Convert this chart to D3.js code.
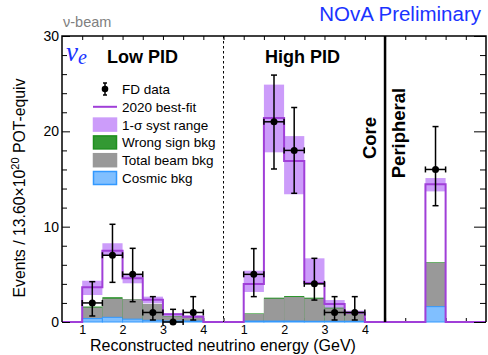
<!DOCTYPE html>
<html><head><meta charset="utf-8">
<script src="https://cdn.jsdelivr.net/npm/d3@7"></script>
<style>body{margin:0;background:#fff}svg{display:block;font-family:"Liberation Sans",Arial,sans-serif}</style>
</head><body><svg id="c" width="488" height="355"></svg>
<script>
// ---- data ----
const binLowEdges = [1, 1.5, 2, 2.5, 3, 3.5];   // GeV, width 0.5
const binWidth = 0.5;
const xTickValues = [1, 2, 3, 4];
const xTickLabels = ["1", "2", "3", "4"];
const yMajorTicks = [0, 10, 20, 30];

const lowPred    = [3.64, 7.48, 4.58, 2.34, 0.80, 0.56];
const lowBandLo  = [2.83, 6.93, 4.06, 1.96, 0.63, 0.45];
const lowBandHi  = [4.33, 8.26, 5.04, 2.66, 0.92, 0.70];
const lowWrong   = [1.62, 2.60, 2.38, 1.89, 0.63, 0.56];
const lowBeam    = [1.52, 2.45, 2.38, 1.89, 0.60, 0.56];
const lowCosmic  = [0.36, 0.49, 0.30, 0.18, 0.10, 0.10];
const lowData    = [2, 7, 5, 1, 0, 1];
const lowDataLo  = [0.63, 4.16, 2.13, 0.21, 0, 0.21];
const lowDataHi  = [4.23, 10.25, 7.73, 2.66, 1.33, 2.66];

const highPred   = [3.99, 21.4, 16.9, 4.10, 1.89, 0.98];
const highBandLo = [3.15, 17.8, 13.4, 4.00, 1.45, 0.84];
const highBandHi = [5.38, 24.9, 19.5, 6.68, 2.30, 1.19];
const highWrong  = [0.90, 2.55, 2.72, 2.55, 1.50, 0.98];
const highBeam   = [0.84, 2.45, 2.62, 2.45, 1.43, 0.98];
const highCosmic = [0.10, 0.10, 0.10, 0.08, 0.08, 0.08];
const highData   = [5, 21, 18, 4, 1, 1];
const highDataLo = [2.66, 16.05, 13.5, 2.3, 0.21, 0.21];
const highDataHi = [7.7, 25.9, 22.5, 6.68, 2.66, 2.66];

const periPred = [14.45], periBandLo = [13.7], periBandHi = [15.1];
const periWrong = [6.26], periBeam = [6.2], periCosmic = [1.61];
const periData = [16], periDataLo = [12.2], periDataHi = [20.5];

const legendLabels = ["FD data", "2020 best-fit", "1-\u03c3 syst range", "Wrong sign bkg", "Total beam bkg", "Cosmic bkg"];

// ---- colours ----
const C = {pred:"#a03fd8", band:"#cc9cfa", green:"#339933", greenS:"#1f8f1f", gray:"#999999",
           cos:"#80bfff", cosS:"#3399ff", blue:"#1a33ff"};

const svg = d3.select("#c");
const x = d3.scaleLinear().domain([0, 10.5]).range([62, 486]);
const y = d3.scaleLinear().domain([0, 30]).range([322, 36]);
// region offsets: E (GeV) -> u
const uLow = e => e - 0.5, uHigh = e => 4 + e - 0.5;

// bottom ticks (behind)
const halfTicks = d3.range(0.5, 10.5, 0.5);
svg.append("g").attr("transform", `translate(0,${y(0)})`)
  .call(d3.axisBottom(x).tickValues(halfTicks).tickSize(-4).tickFormat(""))
  .call(g => { g.select(".domain").remove(); g.selectAll("line").attr("stroke","#000"); });
// top ticks
svg.append("g").attr("transform", `translate(0,${y(30)})`)
  .call(d3.axisTop(x).tickValues(halfTicks).tickSize(-4).tickFormat(""))
  .call(g => { g.select(".domain").remove(); g.selectAll("line").attr("stroke","#000"); });

function drawRegion(map, edges, pred, bLo, bHi, wrong, beam, cos) {
  const g = svg.append("g");
  edges.forEach((e, i) => {
    const x0 = x(map(e)), x1 = x(map(e + binWidth));
    g.append("rect").attr("x", x0).attr("width", x1 - x0)
      .attr("y", y(bHi[i])).attr("height", y(bLo[i]) - y(bHi[i])).attr("fill", C.band);
  });
  edges.forEach((e, i) => {
    const x0 = x(map(e)), x1 = x(map(e + binWidth));
    g.append("rect").attr("x", x0).attr("width", x1 - x0)
      .attr("y", y(wrong[i])).attr("height", y(0) - y(wrong[i])).attr("fill", C.greenS);
    g.append("rect").attr("x", x0).attr("width", x1 - x0)
      .attr("y", y(beam[i])).attr("height", y(0) - y(beam[i])).attr("fill", C.gray);
    g.append("rect").attr("x", x0).attr("width", x1 - x0)
      .attr("y", y(cos[i])).attr("height", y(0) - y(cos[i])).attr("fill", C.cos)
      .attr("stroke", C.cosS).attr("stroke-width", 1);
  });
}
function drawLine(map, start, end, edges, pred) {
  const pts = [[start, 0]];
  edges.forEach((e, i) => pts.push([e, pred[i]]));
  pts.push([edges[edges.length - 1] + binWidth, 0]);
  pts.push([end, 0]);
  const line = d3.line().x(d => x(map(d[0]))).y(d => y(d[1])).curve(d3.curveStepAfter);
  svg.append("path").attr("d", line(pts)).attr("fill", "none").attr("stroke", C.pred).attr("stroke-width", 2);
}
function drawData(map, edges, data, lo, hi) {
  const g = svg.append("g").attr("stroke", "#000").attr("stroke-width", 1.5);
  edges.forEach((e, i) => {
    const cx = x(map(e + binWidth / 2)), cy = y(data[i]);
    const xl = x(map(e)), xr = x(map(e + binWidth));
    g.append("line").attr("x1", xl).attr("x2", xr).attr("y1", cy).attr("y2", cy);
    g.append("line").attr("x1", xl).attr("x2", xl).attr("y1", cy - 3).attr("y2", cy + 3);
    g.append("line").attr("x1", xr).attr("x2", xr).attr("y1", cy - 3).attr("y2", cy + 3);
    g.append("line").attr("x1", cx).attr("x2", cx).attr("y1", y(hi[i])).attr("y2", y(lo[i]));
    g.append("line").attr("x1", cx - 3).attr("x2", cx + 3).attr("y1", y(hi[i])).attr("y2", y(hi[i]));
    g.append("line").attr("x1", cx - 3).attr("x2", cx + 3).attr("y1", y(lo[i])).attr("y2", y(lo[i]));
    g.append("circle").attr("cx", cx).attr("cy", cy).attr("r", 3.5).attr("fill", "#000").attr("stroke", "none");
  });
}

const uPeri = e => e; // peripheral bin placed directly in u units
const periEdges = [9.0];

drawRegion(uLow, binLowEdges, lowPred, lowBandLo, lowBandHi, lowWrong, lowBeam, lowCosmic);
drawRegion(uHigh, binLowEdges, highPred, highBandLo, highBandHi, highWrong, highBeam, highCosmic);
drawRegion(uPeri, periEdges, periPred, periBandLo, periBandHi, periWrong, periBeam, periCosmic);
drawLine(uLow, 0.5, 4.5, binLowEdges, lowPred);
drawLine(uHigh, 0.5, 4.5, binLowEdges, highPred);
drawLine(uPeri, 8, 10.5, periEdges, periPred);
drawData(uLow, binLowEdges, lowData, lowDataLo, lowDataHi);
drawData(uHigh, binLowEdges, highData, highDataLo, highDataHi);
drawData(uPeri, periEdges, periData, periDataLo, periDataHi);

// separators
svg.append("line").attr("x1", x(4)).attr("x2", x(4)).attr("y1", y(30)).attr("y2", y(0))
  .attr("stroke", "#000").attr("stroke-width", 1).attr("stroke-dasharray", "2.5,2.5");
svg.append("line").attr("x1", x(8)).attr("x2", x(8)).attr("y1", y(30)).attr("y2", y(0))
  .attr("stroke", "#000").attr("stroke-width", 2.5);

// frame
svg.append("path").attr("d", `M${x(0)},${y(0)}V${y(30)}H${x(10.5)}V${y(0)}`)
  .attr("fill", "none").attr("stroke", "#000").attr("stroke-width", 1.5);

// y axes
const yMinor = d3.range(0, 31, 2).filter(v => v % 10 !== 0);
svg.append("g").attr("transform", `translate(${x(0)},0)`)
  .call(d3.axisLeft(y).tickValues(yMajorTicks).tickSize(-8).tickPadding(3).tickFormat(d3.format("d")))
  .call(g => { g.select(".domain").remove(); g.selectAll("line").attr("stroke","#000");
               g.selectAll("text").attr("font-size", 14).attr("font-family", "Liberation Sans, Arial").attr("fill","#000").attr("x", -3); });
svg.append("g").attr("transform", `translate(${x(0)},0)`)
  .call(d3.axisLeft(y).tickValues(yMinor).tickSize(-5).tickFormat(""))
  .call(g => { g.select(".domain").remove(); g.selectAll("line").attr("stroke","#000"); });
svg.append("g").attr("transform", `translate(${x(10.5)},0)`)
  .call(d3.axisRight(y).tickValues(yMajorTicks).tickSize(-12).tickFormat(""))
  .call(g => { g.select(".domain").remove(); g.selectAll("line").attr("stroke","#000"); });
svg.append("g").attr("transform", `translate(${x(10.5)},0)`)
  .call(d3.axisRight(y).tickValues(yMinor).tickSize(-6).tickFormat(""))
  .call(g => { g.select(".domain").remove(); g.selectAll("line").attr("stroke","#000"); });

// x tick labels
const xLabVals = xTickValues.map(uLow).concat(xTickValues.map(uHigh));
const xLabTxt = xTickLabels.concat(xTickLabels);
svg.append("g").attr("transform", `translate(0,${y(0)})`)
  .call(d3.axisBottom(x).tickValues(xLabVals).tickSize(0).tickPadding(3).tickFormat((d, i) => xLabTxt[i]))
  .call(g => { g.select(".domain").remove();
               g.selectAll("text").attr("font-size", 12.5).attr("font-family", "Liberation Sans, Arial").attr("fill","#000"); });

// titles
svg.append("text").attr("x", 223).attr("y", 350.5).attr("text-anchor", "middle")
  .attr("font-size", 16).text("Reconstructed neutrino energy (GeV)");
const yt = svg.append("text").attr("transform", "translate(25,188) rotate(-90)").attr("text-anchor", "middle").attr("font-size", 15.8);
yt.append("tspan").text("Events / 13.60\u00d710");
yt.append("tspan").attr("dy", -6).attr("font-size", 11).text("20");
yt.append("tspan").attr("dy", 6).text(" POT-equiv");

svg.append("text").attr("x", 63).attr("y", 27).attr("font-size", 14.5).attr("fill", "#808080").text("\u03bd-beam");
svg.append("text").attr("x", 481).attr("y", 20.5).attr("text-anchor", "end").attr("font-size", 20.5)
  .attr("fill", C.blue).text("NOvA Preliminary");

const nue = svg.append("text").attr("x", 66).attr("y", 61).attr("fill", C.blue)
  .attr("font-family", "Liberation Serif, DejaVu Serif, serif").attr("font-style", "italic");
nue.append("tspan").attr("font-size", 27).text("\u03bd");
nue.append("tspan").attr("font-size", 20).attr("dy", 3).text("e");

svg.append("text").attr("x", 107).attr("y", 63).attr("font-size", 18).attr("font-weight", "bold").text("Low PID");
svg.append("text").attr("x", 265).attr("y", 63).attr("font-size", 18).attr("font-weight", "bold").text("High PID");
svg.append("text").attr("transform", "translate(376,138) rotate(-90)").attr("text-anchor", "middle")
  .attr("font-size", 18.5).attr("font-weight", "bold").text("Core");
svg.append("text").attr("transform", "translate(405,133) rotate(-90)").attr("text-anchor", "middle")
  .attr("font-size", 18.5).attr("font-weight", "bold").text("Peripheral");

// legend
const lg = svg.append("g");
legendLabels.forEach((lab, i) => {
  const cy = 89 + i * 17.8;
  lg.append("text").attr("x", 122).attr("y", cy + 5).attr("font-size", 13.5).text(lab);
  if (i === 0) {
    const gg = lg.append("g").attr("stroke", "#000").attr("stroke-width", 1.5);
    gg.append("line").attr("x1", 105).attr("x2", 105).attr("y1", cy - 6).attr("y2", cy + 6);
    gg.append("line").attr("x1", 103).attr("x2", 107).attr("y1", cy - 6).attr("y2", cy - 6);
    gg.append("line").attr("x1", 103).attr("x2", 107).attr("y1", cy + 6).attr("y2", cy + 6);
    gg.append("circle").attr("cx", 105).attr("cy", cy).attr("r", 3.3).attr("fill", "#000").attr("stroke", "none");
  } else if (i === 1) {
    lg.append("line").attr("x1", 93).attr("x2", 117).attr("y1", cy).attr("y2", cy).attr("stroke", C.pred).attr("stroke-width", 2);
  } else {
    const fills = [null, null, C.band, C.green, C.gray, C.cos];
    const strokes = [null, null, C.band, C.greenS, C.gray, C.cosS];
    lg.append("rect").attr("x", 93.5).attr("y", cy - 6.5).attr("width", 23).attr("height", 13)
      .attr("fill", fills[i]).attr("stroke", strokes[i]).attr("stroke-width", 1.5);
  }
});
</script></body></html>
